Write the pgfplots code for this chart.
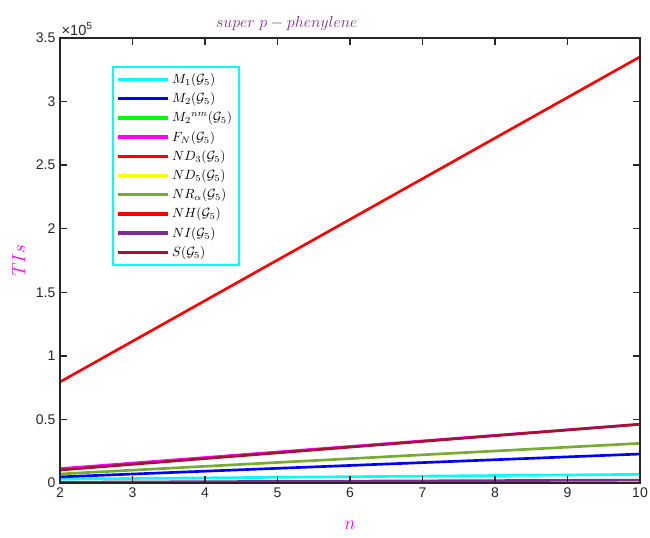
\documentclass[border=0pt]{standalone}
\usepackage{pgfplots}
\pgfplotsset{compat=1.18}
\usepackage{fontspec}
\setmainfont{Liberation Sans}
\definecolor{mcyan}{rgb}{0,1,1}
\definecolor{mblue}{rgb}{0,0,1}
\definecolor{mgreen}{rgb}{0,1,0}
\definecolor{mmagenta}{rgb}{1,0,1}
\definecolor{mred}{rgb}{1,0,0}
\definecolor{myellow}{rgb}{1,1,0}
\definecolor{mpurple}{rgb}{0.494,0.184,0.556}
\definecolor{molive}{rgb}{0.466,0.674,0.188}
\definecolor{mdred}{rgb}{0.635,0.078,0.184}
\definecolor{axgray}{rgb}{0.15,0.15,0.15}
\begin{document}
\begin{tikzpicture}
\begin{axis}[
  scale only axis,
  axis on top,
  width=435pt, height=333.75pt,
  xmin=2, xmax=10, ymin=0, ymax=350000,
  xtick={2,3,4,5,6,7,8,9,10},
  ytick={0,50000,100000,150000,200000,250000,300000,350000},
  yticklabels={0,0.5,1,1.5,2,2.5,3,3.5},
  scaled y ticks=false,
  tick pos=both,
  /pgf/number format/assume math mode=true,
  tick label style={font=\fontsize{10.5}{12}\selectfont, text=axgray},
  tick align=inside,
  major tick length=5pt,
  major tick style={draw=axgray, line width=1pt},
  axis line style={axgray, line width=0.8pt},
  title={$super\ p-phenylene$},
  title style={at={(rel axis cs:0.391,1)}, anchor=south, text=mpurple, font=\fontsize{12.3}{14}\selectfont, yshift=-4pt},
  xlabel={$n$}, ylabel={$TIs$},
  label style={text=mmagenta, font=\fontsize{14}{16}\selectfont},
  xlabel style={yshift=-11pt},
  ylabel style={yshift=1pt},
  legend style={at={(rel axis cs:0.0897,0.937)}, anchor=north west, draw=mcyan, line width=1.2pt,
    font=\fontsize{10}{12}\selectfont, row sep=1.4pt, inner sep=3pt, cells={anchor=west}},
  legend image code/.code={\draw[#1, line width=2.5pt] (0mm,0mm) -- (13mm,0mm);},
  every axis plot/.append style={line width=2pt},
]
\addplot[mcyan] coordinates {(2,3100) (10,6800)};
\addplot[mblue] coordinates {(2,4800) (10,22800)};
\addplot[mgreen] coordinates {(2,300) (10,1200)};
\addplot[mmagenta] coordinates {(2,11300) (10,46200)};
\addplot[mred] coordinates {(2,200) (10,600)};
\addplot[myellow] coordinates {(2,100) (10,400)};
\addplot[molive] coordinates {(2,7100) (10,31200)};
\addplot[mred] coordinates {(2,79500) (10,335200)};
\addplot[mpurple] coordinates {(2,600) (10,2300)};
\addplot[mdred] coordinates {(2,10200) (10,46200)};
\legend{$M_1(\mathcal{G}_5)$,$M_2(\mathcal{G}_5)$,${M_2}^{nm}(\mathcal{G}_5)$,$F_N(\mathcal{G}_5)$,$ND_3(\mathcal{G}_5)$,$ND_5(\mathcal{G}_5)$,$NR_\alpha(\mathcal{G}_5)$,$NH(\mathcal{G}_5)$,$NI(\mathcal{G}_5)$,$S(\mathcal{G}_5)$}
\end{axis}
\node[anchor=south west, inner sep=1pt, font=\fontsize{11}{13}\selectfont, text=axgray] at (0pt,334.5pt) {×10\textsuperscript{5}};
\pgfresetboundingbox
\path (-45pt,-40.5pt) rectangle (442.5pt,362.25pt);
\end{tikzpicture}
\end{document}
